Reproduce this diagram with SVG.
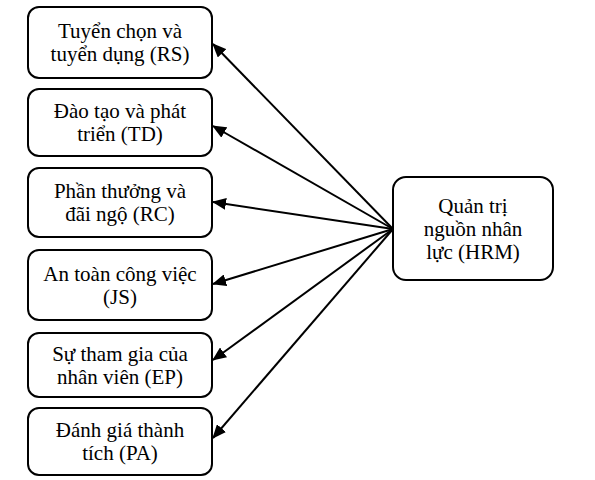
<svg xmlns="http://www.w3.org/2000/svg" width="595" height="480" viewBox="0 0 595 480">
<style>
.box{fill:#fff;stroke:#000;stroke-width:2}
.t{font-family:'Liberation Serif','Times New Roman',Tinos,'Noto Serif','DejaVu Serif',serif;font-size:21px;fill:#000;text-anchor:middle}
.c{stroke:#000;stroke-width:2;fill:none;marker-end:url(#ah)}
</style>
<defs>
<marker id="ah" markerUnits="userSpaceOnUse" markerWidth="14" markerHeight="12" viewBox="0 0 14 12" refX="13" refY="6" orient="auto">
<path d="M0,0 L14,6 L0,12 Z" fill="#000"/>
</marker>
</defs>
<rect width="595" height="480" fill="#fff"/>
<g id="connectors">
<line class="c" x1="393" y1="229" x2="213" y2="44"/>
<line class="c" x1="393" y1="229" x2="213" y2="126"/>
<line class="c" x1="393" y1="229" x2="213" y2="202"/>
<line class="c" x1="393" y1="229" x2="213" y2="284"/>
<line class="c" x1="393" y1="229" x2="213" y2="360"/>
<line class="c" x1="393" y1="229" x2="213" y2="438"/>
</g>
<g id="rs">
<rect class="box" x="28" y="7" width="184" height="71" rx="11"/>
<text class="t" x="120" y="38" font-family="Liberation Serif, serif">Tuyển chọn và</text>
<text class="t" x="120" y="61" font-family="Liberation Serif, serif">tuyển dụng (RS)</text>
</g>
<g id="td">
<rect class="box" x="28" y="89" width="184" height="67" rx="11"/>
<text class="t" x="120" y="118">Đào tạo và phát</text>
<text class="t" x="120" y="141">triển (TD)</text>
</g>
<g id="rc">
<rect class="box" x="28" y="168" width="184" height="69" rx="11"/>
<text class="t" x="120" y="198">Phần thưởng và</text>
<text class="t" x="120" y="221">đãi ngộ (RC)</text>
</g>
<g id="js">
<rect class="box" x="28" y="250" width="184" height="70" rx="11"/>
<text class="t" x="120" y="281">An toàn công việc</text>
<text class="t" x="120" y="304">(JS)</text>
</g>
<g id="ep">
<rect class="box" x="28" y="333" width="184" height="64" rx="11"/>
<text class="t" x="120" y="361">Sự tham gia của</text>
<text class="t" x="120" y="384">nhân viên (EP)</text>
</g>
<g id="pa">
<rect class="box" x="28" y="408" width="184" height="67" rx="11"/>
<text class="t" x="120" y="437">Đánh giá thành</text>
<text class="t" x="120" y="460">tích (PA)</text>
</g>
<g id="hrm">
<rect class="box" x="393" y="177" width="160" height="103" rx="13"/>
<text class="t" x="473" y="213">Quản trị</text>
<text class="t" x="473" y="236">nguồn nhân</text>
<text class="t" x="473" y="259">lực (HRM)</text>
</g>
</svg>
